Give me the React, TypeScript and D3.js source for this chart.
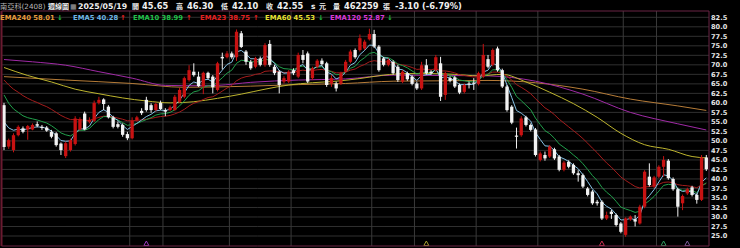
import React from "react";
import * as d3 from "d3";

// ---------- data ----------
const opens = [59.4,48.5,47.6,51.5,53.3,53.0,53.0,54.4,53.7,53.5,52.4,52.0,49.3,46.0,47.6,49.2,53.0,57.2,55.0,55.3,60.0,60.9,59.0,56.2,54.4,54.2,51.8,50.7,55.5,57.9,60.8,59.4,58.1,60.0,58.1,58.1,58.1,60.3,61.6,66.0,68.2,66.9,64.3,67.9,66.9,63.4,72.1,72.0,73.0,72.0,78.3,73.5,70.8,69.5,71.7,70.0,75.5,69.5,68.2,65.6,65.6,68.6,66.9,72.6,73.0,66.5,69.5,71.1,70.4,65.1,65.1,65.1,68.2,70.8,73.9,73.9,74.3,76.7,78.1,74.8,71.7,70.0,70.8,69.5,65.6,67.8,66.9,65.1,63.8,69.9,68.2,68.6,70.4,62.1,66.5,66.7,64.7,62.9,65.1,65.3,65.0,66.9,71.5,70.0,74.3,68.6,64.3,59.0,51.4,51.5,56.2,54.2,53.0,45.0,46.3,45.9,47.8,45.9,42.4,44.5,43.7,41.5,41.0,37.5,36.7,34.0,34.0,29.6,31.4,30.5,28.3,25.3,29.4,29.4,28.3,32.7,40.6,38.0,40.6,43.2,44.8,40.0,37.3,33.6,36.2,37.8,35.8,34.5,45.65];
const highs = [60.0,50.6,52.0,54.1,53.8,54.2,54.6,55.1,54.2,53.9,52.9,52.3,49.6,49.8,50.6,56.5,56.2,57.7,56.2,60.6,61.6,61.2,59.4,56.6,55.1,54.6,52.4,56.2,56.6,58.6,61.6,59.9,60.1,60.6,58.6,59.3,62.1,63.9,66.9,69.9,70.4,68.2,68.2,68.2,67.3,70.8,73.2,73.6,73.5,79.3,78.9,73.9,71.3,72.1,72.2,75.7,76.5,70.0,68.6,67.0,68.6,69.1,73.2,73.9,73.5,69.5,71.5,71.7,70.8,67.3,65.6,68.2,71.3,74.0,74.3,78.0,76.6,79.5,79.2,75.2,72.1,71.7,71.2,70.0,68.6,68.2,67.3,65.6,70.8,71.5,68.6,72.6,72.1,68.2,67.0,67.1,65.1,65.1,65.6,66.5,68.2,75.5,72.6,74.3,74.8,69.0,64.7,59.4,53.5,56.5,56.6,54.6,53.4,47.2,47.2,48.9,48.2,46.3,44.7,44.9,44.1,42.3,41.4,37.9,37.1,34.5,34.4,31.4,31.9,30.9,28.7,29.9,30.4,30.5,33.2,42.3,44.1,40.8,43.6,46.0,45.2,40.4,37.7,35.9,37.7,38.2,36.2,46.3,46.3];
const lows = [47.6,47.9,47.0,51.2,52.0,50.3,52.8,53.6,52.9,52.4,50.7,48.5,46.3,45.5,47.2,48.8,52.8,52.8,54.6,55.0,59.6,58.1,55.9,53.3,53.3,51.1,50.2,50.4,55.1,56.8,57.7,57.4,57.8,58.1,56.5,57.8,57.9,60.0,61.2,65.6,66.9,64.2,62.3,66.2,62.5,63.0,68.8,71.7,71.6,71.0,74.4,70.0,68.7,69.1,69.6,69.5,69.5,67.3,62.5,65.1,65.2,67.3,66.5,70.4,65.2,66.0,69.1,69.8,64.2,64.2,63.0,64.7,67.8,70.4,71.6,73.5,73.9,76.4,74.4,68.2,69.6,69.6,67.4,65.5,65.2,65.8,64.6,63.4,63.4,67.4,67.4,68.2,60.5,60.8,65.4,63.9,62.3,62.5,63.8,63.4,64.6,66.5,69.1,69.6,68.2,63.9,57.7,54.4,48.0,51.1,53.8,52.5,45.9,44.6,44.8,45.5,45.0,42.0,42.0,42.8,41.1,39.3,37.6,35.4,33.2,33.0,29.2,29.2,29.5,27.5,25.7,24.8,29.0,27.5,28.0,32.3,38.0,37.6,40.2,40.6,39.8,36.9,30.1,31.8,35.8,35.4,33.5,34.2,42.1];
const closes = [48.4,50.2,51.5,53.7,52.4,53.9,54.2,54.0,53.4,52.7,51.1,48.9,47.6,49.4,50.2,55.9,55.7,53.0,55.5,60.0,60.8,59.7,56.2,53.7,53.7,51.6,50.7,55.3,56.2,57.3,58.1,58.1,59.7,58.4,57.7,58.8,61.6,63.4,66.5,68.6,67.3,64.4,67.9,66.5,64.1,70.4,71.7,73.0,72.0,78.7,74.7,70.8,69.1,71.7,70.0,75.2,70.0,67.8,64.7,66.5,68.2,67.8,72.6,71.3,65.6,69.1,71.1,70.2,64.7,66.5,63.8,67.8,70.8,73.5,72.0,77.0,76.1,78.1,74.8,68.6,70.0,71.3,67.8,66.0,68.2,66.2,65.0,63.8,69.9,67.8,67.8,72.0,61.6,67.8,65.8,64.3,62.7,64.7,64.9,65.1,67.8,72.6,69.5,73.9,68.6,64.3,58.1,54.8,51.1,55.9,54.2,52.9,46.3,46.7,45.4,48.5,45.4,42.4,44.3,43.2,41.5,41.0,38.0,35.8,33.6,33.6,29.6,30.5,30.8,27.9,26.1,29.6,30.1,28.8,32.7,41.9,38.4,40.4,43.2,45.0,40.2,37.3,32.7,35.5,37.3,35.8,34.5,45.65,42.55];

const ema5 = [55.0,53.4,52.8,53.1,52.9,53.2,53.5,53.7,53.6,53.3,52.6,51.4,50.1,49.9,50.0,52.0,53.2,53.1,53.9,55.9,57.5,58.2,57.5,56.2,55.4,54.1,53.0,53.8,54.6,55.5,56.4,57.0,57.9,58.1,58.0,58.3,59.4,60.7,62.6,64.6,65.5,65.1,66.0,66.2,65.5,67.1,68.6,70.1,70.7,73.4,73.8,72.8,71.6,71.6,71.1,72.5,71.7,70.4,68.5,67.8,67.9,67.9,69.5,70.1,68.6,68.8,69.6,69.8,68.1,67.6,66.3,66.8,68.1,69.9,70.6,72.7,73.8,75.2,75.1,72.9,71.9,71.7,70.4,68.9,68.7,67.9,66.9,65.9,67.2,67.4,67.5,69.0,66.5,66.9,66.5,65.8,64.8,64.8,64.8,64.9,65.9,68.1,68.6,70.4,69.8,68.0,64.7,61.4,58.0,57.3,56.3,55.2,52.2,50.4,48.7,48.6,47.5,45.8,45.3,44.6,43.6,42.7,41.1,39.3,37.4,36.1,33.9,32.8,32.1,30.7,29.2,29.3,29.6,29.3,30.4,34.2,35.6,37.2,39.2,41.1,40.8,39.6,37.3,36.7,36.9,36.5,35.8,39.1,40.28];
const ema10 = [62.1,59.9,58.4,57.5,56.6,56.1,55.8,55.5,55.1,54.7,54.0,53.1,52.1,51.6,51.3,52.1,52.8,52.8,53.3,54.5,55.6,56.4,56.4,55.9,55.5,54.8,54.1,54.3,54.6,55.1,55.6,56.1,56.8,57.1,57.2,57.5,58.2,59.2,60.5,62.0,62.9,63.2,64.1,64.5,64.4,65.5,66.6,67.8,68.6,70.4,71.2,71.1,70.7,70.9,70.7,71.5,71.2,70.6,69.5,69.0,68.9,68.7,69.4,69.7,69.0,69.0,69.4,69.5,68.6,68.2,67.4,67.5,68.1,69.1,69.6,71.0,71.9,73.0,73.3,72.5,72.0,71.9,71.2,70.2,69.8,69.2,68.4,67.6,68.0,68.0,68.0,68.7,67.4,67.5,67.2,66.7,66.0,65.8,65.6,65.5,65.9,67.1,67.5,68.7,68.7,67.9,66.1,64.1,61.7,60.6,59.4,58.2,56.0,54.3,52.7,51.9,50.7,49.2,48.3,47.4,46.3,45.3,44.0,42.5,40.9,39.6,37.8,36.5,35.5,34.1,32.6,32.1,31.7,31.2,31.5,33.4,34.3,35.4,36.8,38.3,38.6,38.4,37.4,37.0,37.1,36.9,36.4,38.1,38.99];
const ema23 = [66.0,64.7,63.6,62.8,61.9,61.2,60.6,60.1,59.5,59.0,58.3,57.5,56.7,56.1,55.6,55.6,55.6,55.4,55.4,55.8,56.2,56.5,56.5,56.3,56.0,55.7,55.3,55.3,55.4,55.5,55.7,55.9,56.2,56.4,56.5,56.7,57.1,57.6,58.3,59.2,59.9,60.3,60.9,61.4,61.6,62.3,63.1,63.9,64.6,65.8,66.5,66.9,67.1,67.5,67.7,68.3,68.4,68.4,68.1,68.0,68.0,68.0,68.4,68.6,68.4,68.5,68.7,68.8,68.5,68.3,67.9,67.9,68.1,68.6,68.9,69.6,70.1,70.8,71.1,70.9,70.8,70.8,70.6,70.2,70.0,69.7,69.3,68.8,68.9,68.8,68.7,69.0,68.4,68.4,68.2,67.9,67.4,67.2,67.0,66.8,66.9,67.4,67.6,68.1,68.1,67.8,67.0,66.0,64.8,64.1,63.3,62.4,61.1,59.9,58.7,57.9,56.9,55.7,54.7,53.7,52.7,51.7,50.6,49.4,48.1,46.9,45.5,44.2,43.1,41.8,40.5,39.6,38.8,38.0,37.6,37.9,38.0,38.2,38.6,39.1,39.2,39.0,38.5,38.3,38.2,38.0,37.7,38.4,38.75];
const ema60Idx = [0,5,10,15,20,25,30,35,40,45,50,55,60,65,70,75,80,85,90,95,100,105,110,115,120,125,130,135,140,145,148];
const ema60Val = [69.3,67.2,65.5,63.6,62.4,61.3,60.5,60.0,60.3,61.2,62.3,63.6,64.7,65.3,65.7,66.4,67.3,67.7,67.7,67.5,67.1,67.5,65.5,62.8,59.8,56.2,52.0,49.0,47.8,45.9,45.53];
const ema120Idx = [0,6,13,20,27,34,41,45,52,62,72,82,92,102,112,122,132,142,148];
const ema120Val = [71.4,70.8,69.9,68.2,66.5,64.6,64.5,64.6,65.4,66.0,66.3,67.3,67.2,67.1,65.7,62.3,57.5,54.5,52.87];
const ema240Idx = [0,13,27,38,52,62,72,82,92,102,112,122,132,142,148];
const ema240Val = [66.9,66.0,65.1,64.1,64.4,64.8,65.1,65.7,65.8,65.9,65.3,63.6,61.0,59.2,58.01];

const priceTicks = ["82.5","80.0","77.5","75.0","72.5","70.0","67.5","65.0","62.5","60.0","57.5","55.0","52.5","50.0","47.5","45.0","42.5","40.0","37.5","35.0","32.5","30.0","27.5","25.0"];
const periodBreaks = [26, 33, 47, 60, 77, 86, 99, 112, 130, 137];
const markerIdx = [30, 89, 126, 139, 144];

const legendNames = ["EMA240", "EMA5", "EMA10", "EMA23", "EMA60", "EMA120"];
const legendValues = ["58.01", "40.28", "38.99", "38.75", "45.53", "52.87"];
const legendDirs = ["down", "up", "up", "up", "down", "down"];

const stockName = "南亞科(2408)";
const chartKind = "週線圖";
const dateLabel = "2025/05/19";
const quoteLabels = ["開", "高", "低", "收"];
const quoteValues = ["45.65", "46.30", "42.10", "42.55"];
const volumeLabel = "462259";
const changeLabel = "-3.10";
const changePct = "(-6.79%)";

// ---------- component ----------
export default function App() {
  const W = 740, H = 248;
  const plotL = 1.5, plotR = 709, plotT = 11, plotB = 246;
  const n = closes.length;
  const x = d3.scaleLinear().domain([0, n - 1]).range([4, 706.3]);
  const y = d3.scaleLinear().domain([25, 82.5]).range([236, 17.3]);
  const bw = 3.3;

  const RED = "#c81212";
  const WHITE = "#f2f2f2";
  const font = "'DejaVu Sans', 'Noto Sans CJK TC', sans-serif";

  const lineFull = d3.line<number>().x((_, i) => x(i)).y(d => y(d));
  const lineSampled = (idx: number[], vals: number[]) =>
    d3.line<number>().x((_, k) => x(idx[k])).y(d => y(d)).curve(d3.curveMonotoneX)(vals) || "";

  const emaColors = ["#b67c38", "#86c2e6", "#22a04c", "#a41c1c", "#bdb42e", "#a02aa6"];
  const legendColors = ["#e49a3c", "#6cb4e4", "#22c04a", "#e42020", "#e8e032", "#d838d8"];
  const legendX = [0, 73, 133, 200, 265, 330];
  const arrowX = [57, 120, 186, 253, 318, 387];

  const markerColors = ["#9a3cc0", "#a8a030", "#c83050", "#2ea060", "#7c5c9c"];

  const quoteLabelX = [132, 176, 221, 266];
  const quoteValueX = [142, 187, 232, 277];

  return (
    <svg width={W} height={H} style={{ position: "fixed", left: 0, top: 0, background: "#000" }}
      xmlns="http://www.w3.org/2000/svg">
      <rect x={0} y={0} width={W} height={H} fill="#000" />

      {/* horizontal grid */}
      {priceTicks.map(t => (
        <line key={"h" + t} x1={plotL} x2={plotR} y1={y(+t)} y2={y(+t)} stroke="#303030" strokeWidth={1} />
      ))}
      {/* vertical period lines */}
      {periodBreaks.map(b => (
        <line key={"v" + b} x1={x(b + 0.5)} x2={x(b + 0.5)} y1={plotT} y2={plotB} stroke="#3a3a3a" strokeWidth={1} />
      ))}

      {/* EMA lines */}
      <g fill="none" strokeWidth={1}>
        <path d={lineSampled(ema240Idx, ema240Val)} stroke={emaColors[0]} />
        <path d={lineSampled(ema120Idx, ema120Val)} stroke={emaColors[5]} />
        <path d={lineSampled(ema60Idx, ema60Val)} stroke={emaColors[4]} />
        <path d={lineFull(ema23) || ""} stroke={emaColors[3]} />
        <path d={lineFull(ema10) || ""} stroke={emaColors[2]} />
        <path d={lineFull(ema5) || ""} stroke={emaColors[1]} />
      </g>

      {/* candles */}
      <g>
        {closes.map((c, i) => {
          const o = opens[i];
          const up = c >= o;
          const col = up ? RED : WHITE;
          const cx = x(i);
          const top = y(Math.max(o, c));
          const bot = y(Math.min(o, c));
          return (
            <g key={"c" + i}>
              <line x1={cx} x2={cx} y1={y(highs[i])} y2={y(lows[i])} stroke={col} strokeWidth={1} />
              <rect x={cx - bw / 2} y={top} width={bw} height={Math.max(1, bot - top)} fill={col} />
            </g>
          );
        })}
      </g>

      {/* markers at the bottom */}
      {markerIdx.map((m, k) => {
        const cx = x(m);
        return (
          <path key={"m" + m} d={`M${cx - 2.5},${plotB - 0.5} L${cx + 2.5},${plotB - 0.5} L${cx},${plotB - 5} Z`}
            fill="none" stroke={markerColors[k]} strokeWidth={1} />
        );
      })}

      {/* plot border */}
      <line x1={plotL} x2={plotR} y1={plotT} y2={plotT} stroke="#6a2444" strokeWidth={1} />
      <line x1={plotL} x2={plotR} y1={plotB} y2={plotB} stroke="#6a2444" strokeWidth={1} />
      <line x1={plotL} x2={plotL} y1={plotT} y2={plotB} stroke="#6a1a30" strokeWidth={2} />
      <line x1={plotR} x2={plotR} y1={plotT} y2={plotB} stroke="#6a2444" strokeWidth={1} />

      {/* right axis labels */}
      {priceTicks.map(t => (
        <text key={"t" + t} x={711} y={y(+t)} dy="0.35em" fill="#e6e6e6" fontFamily={font}
          fontWeight="bold" fontSize={6.6}>{t}</text>
      ))}

      {/* header row 1 */}
      <g fontFamily={font} fontWeight="bold" fill="#f0f0f0">
        <text x={0} y={9} fontSize={7.2} fontWeight="normal" fill="#b8b8b8">{stockName}</text>
        <text x={48} y={9} fontSize={7}>{chartKind}</text>
        <text x={70} y={9} fontSize={7} fill="#a0a0a0">▦</text>
        <text x={78} y={9} fontSize={7.8}>{dateLabel}</text>
        {quoteLabels.map((q, k) => (
          <text key={"ql" + q} x={quoteLabelX[k]} y={9} fontSize={7}>{q}</text>
        ))}
        {quoteValues.map((v, k) => (
          <text key={"qv" + k} x={quoteValueX[k]} y={9} fontSize={8.3}>{v}</text>
        ))}
        <text x={311} y={9} fontSize={7.5}>s</text>
        <text x={319} y={9} fontSize={7}>元</text>
        <text x={333} y={9} fontSize={7}>量</text>
        <text x={344} y={9} fontSize={8.3}>{volumeLabel}</text>
        <text x={383} y={9} fontSize={7}>張</text>
        <text x={395} y={9} fontSize={8.3}>{changeLabel}</text>
        <text x={422} y={9} fontSize={8.3}>{changePct}</text>
      </g>

      {/* header row 2: legend */}
      <g fontFamily={font} fontWeight="bold" fontSize={6.8}>
        {legendNames.map((nm, k) => (
          <g key={"lg" + nm}>
            <text x={legendX[k]} y={19.5} fill={legendColors[k]}>{nm + " " + legendValues[k]}</text>
            <text x={arrowX[k]} y={19.5} fill={legendDirs[k] === "up" ? "#e42020" : "#22c040"}>
              {legendDirs[k] === "up" ? "↑" : "↓"}
            </text>
          </g>
        ))}
      </g>
    </svg>
  );
}
